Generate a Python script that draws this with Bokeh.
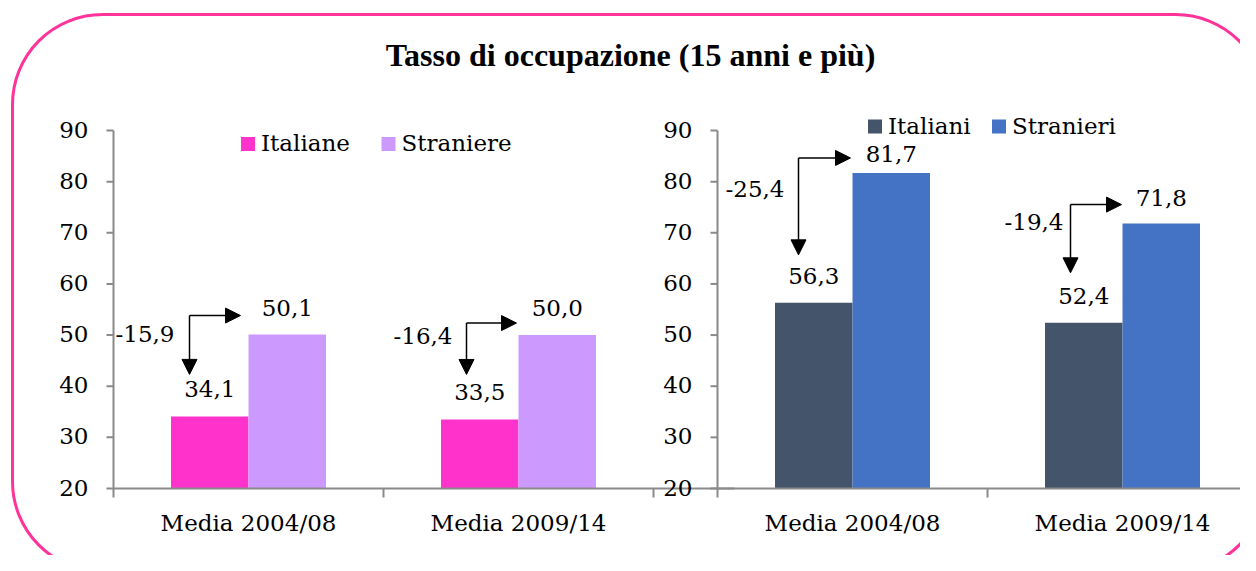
from bokeh.plotting import figure
from bokeh.models import Range1d, BoxAnnotation, ColumnDataSource, Arrow, NormalHead
from bokeh.embed import file_html
from bokeh.resources import INLINE
from bokeh.core.properties import value

# ---------------- data ----------------
title_text = "Tasso di occupazione (15 anni e più)"
periods = ["Media 2004/08", "Media 2009/14"]
left_names = ["Italiane", "Straniere"]
italiane = [34.1, 33.5]
straniere = [50.1, 50.0]
right_names = ["Italiani", "Stranieri"]
italiani = [56.3, 52.4]
stranieri = [81.7, 71.8]
left_gaps = ["-15,9", "-16,4"]
right_gaps = ["-25,4", "-19,4"]
y_ticks = [20, 30, 40, 50, 60, 70, 80, 90]
y_min, y_max = 20, 90

# ---------------- layout (pixels) ----------------
W, H = 1240, 555
AX_L = 113          # canvas x of left chart axis
AX_R = 717          # canvas x of right chart axis
UNIT = 270          # px per category slot
Y_BASE = 488        # canvas y of value 20
Y_TOP = 130         # canvas y of value 90
ppv = (Y_BASE - Y_TOP) / (y_max - y_min)
TS = -9             # text vertical correction (px)

def px_x(px):
    return px / UNIT

def px_y(px):
    return px / ppv

x_start = -AX_L / UNIT
p = figure(width=W, height=H,
           x_range=Range1d(x_start, x_start + W / UNIT),
           y_range=Range1d(y_min - (H - Y_BASE) / ppv, y_min + Y_BASE / ppv),
           x_axis_type=None, y_axis_type=None,
           output_backend="svg", toolbar_location=None, min_border=0)
p.outline_line_color = None
p.background_fill_color = "white"
p.border_fill_color = "white"

FONT = value("DejaVu Serif")
FS = "23px"
AXIS_C = "#8a8a8a"
TXT_C = "#000000"

# rounded frame
frame = BoxAnnotation(left=x_start + px_x(12), right=x_start + px_x(1265),
                      top=y_min + px_y(Y_BASE - 14), bottom=y_min - px_y(571 - Y_BASE),
                      fill_color=None, fill_alpha=0, line_color="#ff3399", line_alpha=1.0,
                      line_width=3, border_radius=90)
p.add_layout(frame)

# title
p.text(x=[x_start + px_x(630)], y=[y_min + px_y(Y_BASE - 63)], text=[title_text],
       y_offset=TS,
       text_font=value("Liberation Serif"), text_font_style="bold", text_font_size="32px",
       text_align="center", text_baseline="alphabetic", text_color=TXT_C)


def chart(offset, names, a_vals, b_vals, gaps, colors, legend_px, b_lift,
          corner_dx, corner_dy, vtip_dy, htip_dx, gap_dx, gap_dy):
    n = len(periods)
    centers = [offset + i + 0.5 for i in range(n)]
    bw = px_x(77.5)
    fmt = lambda v: f"{v:.1f}".replace(".", ",")
    src = ColumnDataSource(dict(
        xa=[c - bw / 2 for c in centers], xb=[c + bw / 2 for c in centers],
        a=a_vals, b=b_vals, la=[fmt(v) for v in a_vals], lb=[fmt(v) for v in b_vals],
        lift_b=[d + TS for d in b_lift]))
    p.vbar(x="xa", top="a", bottom=y_min, width=bw, fill_color=colors[0],
           line_color=None, source=src)
    p.vbar(x="xb", top="b", bottom=y_min, width=bw, fill_color=colors[1],
           line_color=None, source=src)
    # value labels
    p.text(x="xa", y="a", text="la", source=src, y_offset=-18 + TS, text_align="center",
           text_baseline="alphabetic", text_font=FONT, text_font_size=FS, text_color=TXT_C)
    p.text(x="xb", y="b", text="lb", source=src, y_offset="lift_b", text_align="center",
           text_baseline="alphabetic", text_font=FONT, text_font_size=FS, text_color=TXT_C)

    # axes
    p.segment(x0=[offset, offset], y0=[y_min - px_y(9), y_min],
              x1=[offset, offset + n + 0.3], y1=[y_max, y_min],
              line_color=AXIS_C, line_width=2)
    p.segment(x0=[offset - px_x(7)] * len(y_ticks), y0=y_ticks,
              x1=[offset] * len(y_ticks), y1=y_ticks, line_color=AXIS_C, line_width=2)
    xt = [offset + i for i in range(1, n + 1)]
    p.segment(x0=xt, y0=[y_min] * n, x1=xt, y1=[y_min - px_y(9)] * n,
              line_color=AXIS_C, line_width=2)
    p.text(x=[offset] * len(y_ticks), y=y_ticks, text=[str(t) for t in y_ticks],
           x_offset=-25, y_offset=8 + TS, text_align="right", text_baseline="alphabetic",
           text_font=FONT, text_font_size=FS, text_color=TXT_C)
    p.text(x=centers, y=[y_min] * n, text=periods, y_offset=43 + TS, text_align="center",
           text_baseline="alphabetic", text_font=FONT, text_font_size=FS, text_color=TXT_C)

    # legend
    (sx1, sx2, sy) = legend_px
    ly = y_min + px_y(Y_BASE - sy)
    p.rect(x=[offset + px_x(sx1), offset + px_x(sx2)], y=[ly, ly], width=14, height=14,
           width_units="screen", height_units="screen", fill_color=colors, line_color=None)
    p.text(x=[offset + px_x(sx1 + 13), offset + px_x(sx2 + 13)], y=[ly, ly], text=names,
           y_offset=8 + TS, text_align="left", text_baseline="alphabetic",
           text_font=FONT, text_font_size=FS, text_color=TXT_C)

    # gap arrows
    cx = [c + px_x(d) for c, d in zip(centers, corner_dx)]
    cy = [b + px_y(d) for b, d in zip(b_vals, corner_dy)]
    asrc = ColumnDataSource(dict(
        cx=cx, cy=cy,
        hx=[c + px_x(d) for c, d in zip(centers, htip_dx)],
        vy=[a + px_y(d) for a, d in zip(a_vals, vtip_dy)],
        gx=[x + px_x(d) for x, d in zip(cx, gap_dx)], gap=gaps,
        gdy=[d + TS for d in gap_dy]))
    head = dict(size=15, fill_color="black", line_color="black", line_width=1)
    p.add_layout(Arrow(end=NormalHead(**head), x_start="cx", y_start="cy", x_end="hx",
                       y_end="cy", source=asrc, line_width=1.5, line_color="black"))
    p.add_layout(Arrow(end=NormalHead(**head), x_start="cx", y_start="cy", x_end="cx",
                       y_end="vy", source=asrc, line_width=1.5, line_color="black"))
    p.text(x="gx", y="cy", text="gap", source=asrc, y_offset="gdy", text_align="right",
           text_baseline="alphabetic", text_font=FONT, text_font_size=FS, text_color=TXT_C)


chart(0.0, left_names, italiane, straniere, left_gaps, ["#ff33cc", "#cc99ff"],
      (134.5, 275, 143.5), [-18, -18],
      corner_dx=[-59, -52], corner_dy=[19, 12], vtip_dy=[42, 45],
      htip_dx=[-8, -2], gap_dx=[-15, -14], gap_dy=[27, 22])
chart((AX_R - AX_L) / UNIT, right_names, italiani, stranieri, right_gaps,
      ["#44546a", "#4472c4"],
      (157.5, 281.5, 126), [-10, -17],
      corner_dx=[-54, -52], corner_dy=[15, 19], vtip_dy=[48, 50],
      htip_dx=[-2, -1], gap_dx=[-14, -7], gap_dy=[40, 26])

open("out.html", "w").write(file_html(p, INLINE))
